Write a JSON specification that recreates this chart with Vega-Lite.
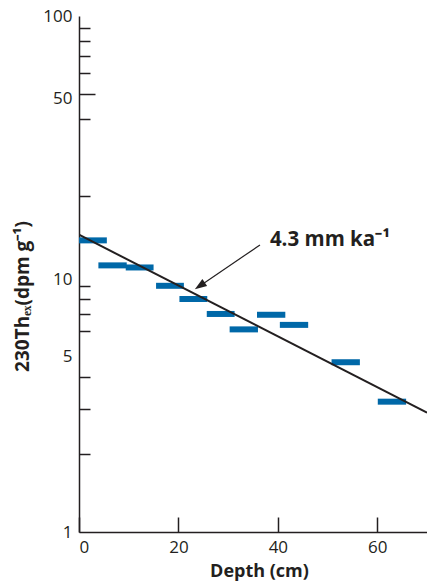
{
  "$schema": "https://vega.github.io/schema/vega-lite/v6.json",
  "width": 348,
  "height": 516,
  "autosize": {"type": "none"},
  "padding": {"left": 79, "top": 16, "right": 0, "bottom": 52},
  "background": "white",
  "config": {
    "view": {"stroke": null},
    "font": "Open Sans",
    "axis": {
      "domainColor": "#231f20",
      "domainWidth": 1.5,
      "tickColor": "#231f20",
      "tickWidth": 1.5,
      "labelColor": "#231f20",
      "labelFont": "Open Sans",
      "labelFontSize": 17,
      "titleColor": "#231f20",
      "titleFont": "Open Sans",
      "titleFontSize": 18,
      "titleFontWeight": "bold",
      "grid": false
    }
  },
  "datasets": {
    "samples": [
      {"top": 0, "bottom": 5.6, "th": 13.5},
      {"top": 3.9, "bottom": 9.6, "th": 10.8},
      {"top": 9.4, "bottom": 15.0, "th": 10.6},
      {"top": 15.5, "bottom": 21.1, "th": 9.0},
      {"top": 20.2, "bottom": 25.8, "th": 8.0},
      {"top": 25.7, "bottom": 31.3, "th": 7.0},
      {"top": 30.3, "bottom": 36.0, "th": 6.1},
      {"top": 35.8, "bottom": 41.5, "th": 6.95},
      {"top": 40.4, "bottom": 46.1, "th": 6.35},
      {"top": 50.8, "bottom": 56.5, "th": 4.55},
      {"top": 60.1, "bottom": 65.8, "th": 3.2}
    ],
    "fit": [
      {"depth": 0, "th": 14.2},
      {"depth": 70, "th": 2.9}
    ],
    "arrow": [
      {"x1": 36.4, "y1": 12.96, "x2": 24.0, "y2": 8.9, "tipx": 23.3, "tipy": 8.72, "tx": 38.4, "ty": 12.87, "label": "4.3 mm ka⁻¹"}
    ]
  },
  "layer": [
    {
      "mark": {"type": "rule", "color": "#231f20", "strokeWidth": 1.5},
      "encoding": {
        "y": {"datum": 100, "type": "quantitative", "scale": {"type": "log", "domain": [1, 100], "nice": false}, "axis": null}
      }
    },
    {
      "data": {"name": "samples"},
      "mark": {"type": "rule", "color": "#0068a8", "strokeWidth": 6, "strokeCap": "butt"},
      "encoding": {
        "x": {
          "field": "top", "type": "quantitative",
          "scale": {"domain": [0, 70], "nice": false},
          "axis": {
            "values": [0, 20, 40, 60],
            "tickSize": -15,
            "labelPadding": 22,
            "title": "Depth (cm)",
            "titleFontSize": 18,
            "titleX": 180,
            "titleY": 44,
            "titleBaseline": "alphabetic",
            "titleAnchor": null,
            "titleAlign": "center"
          }
        },
        "x2": {"field": "bottom"},
        "y": {
          "field": "th", "type": "quantitative",
          "scale": {"type": "log", "domain": [1, 100], "nice": false},
          "axis": {
            "orient": "left",
            "values": [1, 5, 10, 50, 100],
            "ticks": false,
            "labelPadding": 7,
            "labelOffset": {"condition": {"test": "datum.value == 1 || datum.value == 100", "value": 0}, "value": 5},
            "title": "230Thₑₓ(dpm g⁻¹)",
            "titleFontSize": 19,
            "titleAngle": -90,
            "titleX": -57,
            "titleY": 280,
            "titleAlign": "center",
            "titleBaseline": "middle",
            "titleAnchor": null
          }
        }
      }
    },
    {
      "data": {"name": "fit"},
      "mark": {"type": "line", "color": "#231f20", "strokeWidth": 2, "clip": true},
      "encoding": {
        "x": {"field": "depth", "type": "quantitative", "scale": {"domain": [0, 70], "nice": false}, "axis": null},
        "y": {
          "field": "th", "type": "quantitative",
          "scale": {"type": "log", "domain": [1, 100], "nice": false},
          "axis": {
            "orient": "left",
            "values": [2, 3, 4, 6, 7, 8, 9, 20, 40, 60, 70, 80, 90],
            "tickSize": -11,
            "labels": false,
            "domain": false,
            "title": null
          }
        }
      }
    },
    {
      "data": {"name": "arrow"},
      "mark": {"type": "rule", "color": "#231f20", "strokeWidth": 1.2},
      "encoding": {
        "x": {"field": "x1", "type": "quantitative", "scale": {"domain": [0, 70], "nice": false}, "axis": null},
        "x2": {"field": "x2"},
        "y": {
          "field": "y1", "type": "quantitative",
          "scale": {"type": "log", "domain": [1, 100], "nice": false},
          "axis": {
            "orient": "left",
            "values": [50],
            "tickSize": -16,
            "labels": false,
            "domain": false,
            "title": null
          }
        },
        "y2": {"field": "y2"}
      }
    },
    {
      "data": {"name": "arrow"},
      "mark": {"type": "point", "shape": "M0,0L0.35,1L-0.35,1Z", "size": 576, "filled": true, "color": "#231f20", "opacity": 1, "angle": 235.7, "strokeWidth": 0},
      "encoding": {
        "x": {"field": "tipx", "type": "quantitative", "scale": {"domain": [0, 70], "nice": false}, "axis": null},
        "y": {"field": "tipy", "type": "quantitative", "scale": {"type": "log", "domain": [1, 100], "nice": false}, "axis": null}
      }
    },
    {
      "data": {"name": "arrow"},
      "mark": {"type": "text", "align": "left", "baseline": "alphabetic", "fontSize": 20.5, "fontWeight": "bold", "font": "Open Sans", "color": "#231f20"},
      "encoding": {
        "x": {"field": "tx", "type": "quantitative", "scale": {"domain": [0, 70], "nice": false}, "axis": null},
        "y": {"field": "ty", "type": "quantitative", "scale": {"type": "log", "domain": [1, 100], "nice": false}, "axis": null},
        "text": {"field": "label"}
      }
    }
  ],
  "resolve": {"axis": {"x": "independent", "y": "independent"}}
}
